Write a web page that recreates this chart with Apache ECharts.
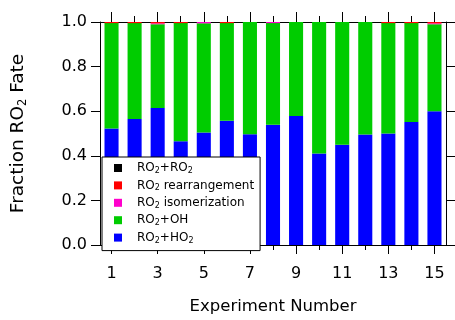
<!DOCTYPE html>
<html>
<head>
<meta charset="utf-8">
<script src="https://cdn.jsdelivr.net/npm/echarts@6/dist/echarts.min.js"></script>
<style>
  html, body { margin: 0; padding: 0; background: #fff; }
  #chart { width: 455px; height: 320px; }
</style>
</head>
<body>
<div id="chart"></div>
<script>
// Experiment numbers along the x axis
const experiments = ['1','2','3','4','5','6','7','8','9','10','11','12','13','14','15'];

// Fraction of RO2 going down each pathway (stacked to 1)
const ro2HO2 = [0.522, 0.565, 0.614, 0.465, 0.504, 0.557, 0.497, 0.539, 0.578, 0.410, 0.449, 0.496, 0.500, 0.552, 0.600];
const ro2OH = [0.473, 0.430, 0.376, 0.530, 0.490, 0.438, 0.503, 0.456, 0.422, 0.590, 0.551, 0.504, 0.495, 0.443, 0.390];
const ro2Isomerization = [0, 0, 0.004, 0, 0.006, 0, 0, 0.005, 0, 0, 0, 0, 0, 0, 0.004];
const ro2Rearrangement = [0.005, 0.005, 0.006, 0.005, 0, 0.005, 0, 0, 0, 0, 0, 0, 0.005, 0.005, 0.006];
const ro2RO2 = [0, 0, 0, 0, 0, 0, 0, 0, 0, 0, 0, 0, 0, 0, 0];

// Y tick values
const yTicks = [0.0, 0.2, 0.4, 0.6, 0.8, 1.0];

const FONT = '"DejaVu Sans", sans-serif';
const chart = echarts.init(document.getElementById('chart'));

const legendRich = {
  a: { fontFamily: FONT, fontSize: 12, color: '#000', lineHeight: 14 },
  s: { fontFamily: FONT, fontSize: 8, color: '#000', lineHeight: 14, padding: [6, 0, 0, 0] }
};
const legendLabels = {
  'RO2+RO2': '{a|RO}{s|2}{a|+RO}{s|2}',
  'RO2 rearrangement': '{a|RO}{s|2}{a| rearrangement}',
  'RO2 isomerization': '{a|RO}{s|2}{a| isomerization}',
  'RO2+OH': '{a|RO}{s|2}{a|+OH}',
  'RO2+HO2': '{a|RO}{s|2}{a|+HO}{s|2}'
};

const oddOnly = (i) => i % 2 === 0;
const catAxisBase = {
  type: 'category',
  data: experiments,
  boundaryGap: true,
  splitLine: { show: false }
};

function bar(name, data, color) {
  return {
    name: name,
    type: 'bar',
    stack: 'fate',
    data: data,
    barWidth: '61%',
    itemStyle: { color: color },
    xAxisIndex: 0,
    yAxisIndex: 0
  };
}

chart.setOption({
  animation: false,
  backgroundColor: '#fff',
  grid: { left: 100, right: 9, top: 22, bottom: 68, containLabel: false },
  legend: {
    orient: 'vertical',
    left: 102,
    top: 157,
    data: ['RO2+RO2', 'RO2 rearrangement', 'RO2 isomerization', 'RO2+OH', 'RO2+HO2'],
    icon: 'rect',
    itemWidth: 8,
    itemHeight: 8,
    itemGap: 3.4,
    padding: [4, 6, 6, 12],
    backgroundColor: '#fff',
    borderColor: '#000',
    borderWidth: 1,
    borderRadius: 0,
    selectedMode: false,
    formatter: (n) => legendLabels[n],
    textStyle: { rich: legendRich, padding: [0, 0, 0, 10] },
    z: 10
  },
  xAxis: [
    Object.assign({}, catAxisBase, {
      position: 'bottom',
      axisLine: { show: true, lineStyle: { color: '#000', width: 1 } },
      axisTick: { show: true, alignWithLabel: true, interval: oddOnly, length: 9, lineStyle: { color: '#000' } },
      axisLabel: { interval: oddOnly, fontFamily: FONT, fontSize: 16, color: '#000', margin: 21 },
      name: 'Experiment Number',
      nameLocation: 'middle',
      nameGap: 53,
      nameTextStyle: { fontFamily: FONT, fontSize: 16.5, color: '#000' }
    }),
    Object.assign({}, catAxisBase, {
      position: 'bottom',
      axisLine: { show: false },
      axisTick: { show: true, alignWithLabel: true, interval: 0, length: 5, lineStyle: { color: '#000' } },
      axisLabel: { show: false }
    }),
    Object.assign({}, catAxisBase, {
      position: 'top',
      axisLine: { show: true, lineStyle: { color: '#000', width: 1 } },
      axisTick: { show: true, alignWithLabel: true, interval: oddOnly, length: 10, lineStyle: { color: '#000' } },
      axisLabel: { show: false }
    }),
    Object.assign({}, catAxisBase, {
      position: 'top',
      axisLine: { show: false },
      axisTick: { show: true, alignWithLabel: true, interval: 0, length: 6, lineStyle: { color: '#000' } },
      axisLabel: { show: false }
    })
  ],
  yAxis: [
    {
      type: 'value',
      position: 'left',
      min: yTicks[0],
      max: yTicks[yTicks.length - 1],
      interval: 0.2,
      axisLine: { show: true, lineStyle: { color: '#000', width: 1 } },
      axisTick: { show: true, length: 9, lineStyle: { color: '#000' } },
      axisLabel: { fontFamily: FONT, fontSize: 16, color: '#000', margin: 13, formatter: (v) => v.toFixed(1) },
      splitLine: { show: false },
      name: '{a|Fraction RO}{s|2}{a| Fate}',
      nameLocation: 'middle',
      nameGap: 71,
      nameTextStyle: {
        rich: {
          a: { fontFamily: FONT, fontSize: 18.5, color: '#000', lineHeight: 21 },
          s: { fontFamily: FONT, fontSize: 11.5, color: '#000', lineHeight: 21, padding: [9, 0, 0, 0] }
        }
      }
    },
    {
      type: 'value',
      position: 'right',
      min: yTicks[0],
      max: yTicks[yTicks.length - 1],
      interval: 0.2,
      axisLine: { show: true, lineStyle: { color: '#000', width: 1 } },
      axisTick: { show: true, length: 9, lineStyle: { color: '#000' } },
      axisLabel: { show: false },
      splitLine: { show: false }
    }
  ],
  series: [
    bar('RO2+HO2', ro2HO2, '#0000FF'),
    bar('RO2+OH', ro2OH, '#00CC00'),
    bar('RO2 isomerization', ro2Isomerization, '#FF00CC'),
    bar('RO2 rearrangement', ro2Rearrangement, '#FF0000'),
    bar('RO2+RO2', ro2RO2, '#000000')
  ]
});
</script>
</body>
</html>
